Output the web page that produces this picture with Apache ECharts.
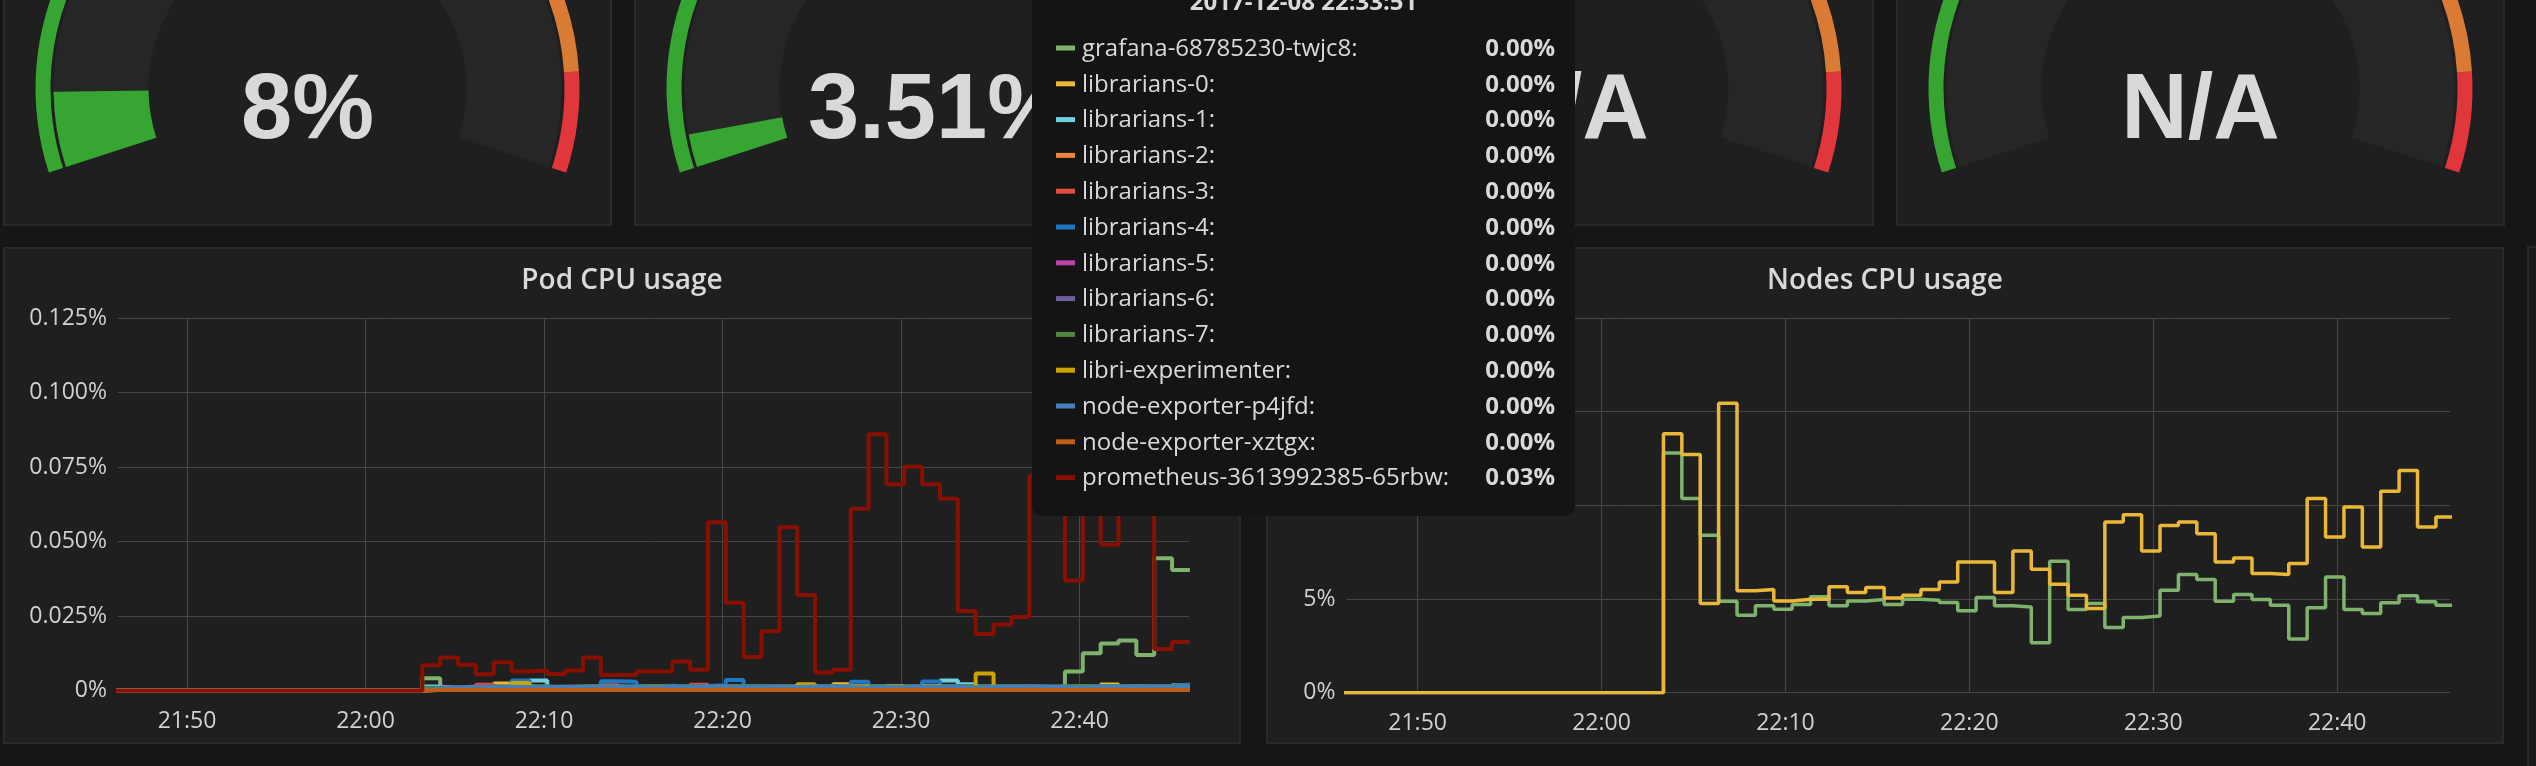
<!DOCTYPE html>
<html>
<head>
<meta charset="utf-8">
<script src="https://cdn.jsdelivr.net/npm/echarts@6/dist/echarts.min.js"></script>
<style>
html,body{margin:0;padding:0;background:#161616;}
#c{width:2536px;height:766px;}
</style>
</head>
<body>
<div id="c"></div>
<script>
// ---------------- DATA ----------------
// Gauges (singlestat)
const gaugeValues = [8, 3.51, null, null];
const gaugeMax = 100;
const gaugeThresholds = [80, 90];

// Pod CPU usage (%), one sample per minute, first sample 21:45:11
const podStart = [21, 45, 11];
const podNames = ['grafana-68785230-twjc8','librarians-0','librarians-1','librarians-2','librarians-3','librarians-4','librarians-5','librarians-6','librarians-7','libri-experimenter','node-exporter-p4jfd','node-exporter-xztgx','prometheus-3613992385-65rbw'];
const podColors = ['#7EB26D','#EAB839','#6ED0E0','#EF843C','#E24D42','#1F78C1','#BA43A9','#705DA0','#508642','#CCA300','#447EBC','#C15C17','#890F02'];

const podGrafana = [0,0,0,0,0,0,0,0,0,0,0,0,0,0,0,0,0,0,
  0.0042,0.0009,0.0008,0.0010,0.0009,0.0011,0.0008,0.0009,0.0010,0.0008,
  0.0009,0.0010,0.0009,0.0008,0.0010,0.0009,0.0011,0.0009,0.0008,0.0010,
  0.0009,0.0008,0.0010,0.0009,0.0011,0.0009,0.0008,0.0010,0.0009,0.0008,
  0.0010,0.0009,0.0008,0.0010,0.0009,0.0011,0.0064,0.0126,0.0158,0.0168,
  0.0120,0.0444,0.0405,0.0405];
const podLib0 = [0,0,0,0,0,0,0,0,0,0,0,0,0,0,0,0,0,0,
  0.0012,0.0010,0.0011,0.0008,0.0024,0.0012,0.0010,0.0009,0.0011,0.0013,
  0.0010,0.0009,0.0012,0.0011,0.0010,0.0012,0.0009,0.0011,0.0010,0.0012,
  0.0011,0.0009,0.0010,0.0022,0.0011,0.0010,0.0012,0.0009,0.0011,0.0010,
  0.0012,0.0011,0.0010,0.0009,0.0011,0.0012,0.0010,0.0011,0.0021,0.0012,
  0.0010,0.0011,0.0012,0.0012];
const podLib1 = [0,0,0,0,0,0,0,0,0,0,0,0,0,0,0,0,0,0,
  0.0014,0.0008,0.0006,0.0007,0.0009,0.0012,0.0034,0.0010,0.0008,0.0009,
  0.0015,0.0010,0.0009,0.0008,0.0012,0.0009,0.0010,0.0016,0.0009,0.0008,
  0.0010,0.0009,0.0010,0.0009,0.0011,0.0008,0.0010,0.0009,0.0012,0.0034,
  0.0022,0.0010,0.0009,0.0010,0.0008,0.0009,0.0010,0.0012,0.0009,0.0010,
  0.0011,0.0009,0.0018,0.0018];
const podLib2 = [0,0,0,0,0,0,0,0,0,0,0,0,0,0,0,0,0,0,
  0.0006,0.0007,0.0006,0.0005,0.0007,0.0006,0.0008,0.0006,0.0007,0.0006,
  0.0005,0.0007,0.0006,0.0008,0.0006,0.0005,0.0007,0.0014,0.0006,0.0007,
  0.0006,0.0005,0.0006,0.0007,0.0006,0.0008,0.0006,0.0007,0.0006,0.0014,
  0.0016,0.0007,0.0006,0.0005,0.0007,0.0006,0.0008,0.0006,0.0007,0.0006,
  0.0005,0.0007,0.0006,0.0006];
const podLib3 = [0,0,0,0,0,0,0,0,0,0,0,0,0,0,0,0,0,0,
  0.0009,0.0010,0.0012,0.0020,0.0010,0.0011,0.0009,0.0010,0.0012,0.0011,
  0.0018,0.0010,0.0009,0.0011,0.0010,0.0020,0.0009,0.0011,0.0010,0.0012,
  0.0009,0.0010,0.0011,0.0010,0.0012,0.0011,0.0010,0.0009,0.0011,0.0010,
  0.0012,0.0011,0.0010,0.0009,0.0011,0.0010,0.0012,0.0011,0.0010,0.0009,
  0.0011,0.0010,0.0012,0.0012];
const podLib4 = [0,0,0,0,0,0,0,0,0,0,0,0,0,0,0,0,0,0,
  0.0010,0.0011,0.0012,0.0010,0.0013,0.0034,0.0014,0.0012,0.0013,0.0016,
  0.0032,0.0030,0.0015,0.0017,0.0014,0.0016,0.0018,0.0036,0.0016,0.0015,
  0.0014,0.0016,0.0015,0.0014,0.0030,0.0016,0.0015,0.0014,0.0031,0.0016,
  0.0015,0.0014,0.0016,0.0015,0.0014,0.0013,0.0015,0.0016,0.0014,0.0015,
  0.0016,0.0017,0.0021,0.0021];
const podLib5 = [0,0,0,0,0,0,0,0,0,0,0,0,0,0,0,0,0,0,
  0.0004,0.0011,0.0014,0.0016,0.0010,0.0008,0.0007,0.0008,0.0009,0.0007,
  0.0008,0.0009,0.0007,0.0008,0.0009,0.0008,0.0007,0.0008,0.0009,0.0007,
  0.0008,0.0009,0.0007,0.0008,0.0009,0.0008,0.0007,0.0008,0.0009,0.0012,
  0.0008,0.0007,0.0009,0.0008,0.0007,0.0008,0.0009,0.0007,0.0008,0.0009,
  0.0008,0.0007,0.0008,0.0008];
const podLib6 = [0,0,0,0,0,0,0,0,0,0,0,0,0,0,0,0,0,0,
  0.0003,0.0005,0.0006,0.0007,0.0006,0.0005,0.0006,0.0007,0.0006,0.0005,
  0.0006,0.0007,0.0006,0.0005,0.0006,0.0007,0.0006,0.0005,0.0006,0.0007,
  0.0006,0.0005,0.0006,0.0007,0.0006,0.0005,0.0006,0.0007,0.0006,0.0005,
  0.0006,0.0007,0.0006,0.0005,0.0006,0.0007,0.0006,0.0005,0.0006,0.0007,
  0.0006,0.0005,0.0006,0.0006];
const podLib7 = [0,0,0,0,0,0,0,0,0,0,0,0,0,0,0,0,0,0,
  0.0008,0.0010,0.0012,0.0014,0.0015,0.0016,0.0014,0.0013,0.0015,0.0016,
  0.0014,0.0015,0.0016,0.0014,0.0015,0.0013,0.0015,0.0016,0.0014,0.0015,
  0.0016,0.0014,0.0015,0.0013,0.0015,0.0016,0.0014,0.0015,0.0016,0.0014,
  0.0015,0.0016,0.0014,0.0015,0.0013,0.0015,0.0016,0.0014,0.0015,0.0016,
  0.0014,0.0015,0.0016,0.0016];
const podLibriExp = [0,0,0,0,0,0,0,0,0,0,0,0,0,0,0,0,0,0,
  0.0003,0.0003,0.0004,0.0005,0.0006,0.0026,0.0005,0.0004,0.0010,0.0004,
  0.0013,0.0005,0.0011,0.0012,0.0012,0.0005,0.0004,0.0011,0.0004,0.0005,
  0.0004,0.0022,0.0004,0.0005,0.0015,0.0004,0.0015,0.0005,0.0016,0.0004,
  0.0005,0.0058,0.0004,0.0010,0.0004,0.0005,0.0004,0.0006,0.0005,0.0004,
  0.0005,0.0004,0.0006,0.0006];
const podNodeP = [0,0,0,0,0,0,0,0,0,0,0,0,0,0,0,0,0,0,
  0.0006,0.0010,0.0012,0.0011,0.0013,0.0012,0.0011,0.0013,0.0012,0.0014,
  0.0013,0.0012,0.0011,0.0013,0.0012,0.0014,0.0013,0.0012,0.0011,0.0013,
  0.0012,0.0014,0.0013,0.0012,0.0011,0.0013,0.0012,0.0014,0.0013,0.0012,
  0.0011,0.0013,0.0012,0.0014,0.0013,0.0012,0.0011,0.0013,0.0012,0.0014,
  0.0013,0.0012,0.0013,0.0013];
const podNodeX = [0,0,0,0,0,0,0,0,0,0,0,0,0,0,0,0,0,0,
  0.0002,0.0002,0.0003,0.0002,0.0002,0.0003,0.0002,0.0002,0.0002,0.0003,
  0.0002,0.0002,0.0003,0.0002,0.0002,0.0002,0.0003,0.0002,0.0002,0.0003,
  0.0002,0.0002,0.0002,0.0003,0.0002,0.0002,0.0003,0.0002,0.0002,0.0002,
  0.0003,0.0002,0.0002,0.0003,0.0002,0.0002,0.0002,0.0003,0.0002,0.0002,
  0.0003,0.0002,0.0002,0.0002];
const podPrometheus = [0,0,0,0,0,0,0,0,0,0,0,0,0,0,0,0,0,0,
  0.0085,0.0111,0.0087,0.0055,0.0095,0.0064,0.0068,0.0056,0.0068,0.0111,
  0.0053,0.0053,0.0064,0.0064,0.0098,0.0070,0.0565,0.0295,0.0113,0.0199,
  0.0548,0.0321,0.0061,0.0070,0.0610,0.0860,0.0692,0.0751,0.0692,0.0644,
  0.0267,0.0190,0.0222,0.0247,0.0720,0.0700,0.0370,0.0680,0.0490,0.0720,
  0.0660,0.0140,0.0163,0.0163];
const podValues = [podGrafana,podLib0,podLib1,podLib2,podLib3,podLib4,podLib5,podLib6,podLib7,podLibriExp,podNodeP,podNodeX,podPrometheus];

// Nodes CPU usage (%), one sample per minute, first sample 21:45:22
const nodesStart = [21, 45, 22];
const nodesColors = ['#7EB26D', '#EAB839'];
const nodesA = [0,0,0,0,0,0,0,0,0,0,0,0,0,0,0,0,0,0,
  12.79,10.36,8.40,4.88,4.14,4.64,4.46,4.71,5.12,4.64,
  4.90,4.97,4.71,4.99,4.94,4.81,4.37,5.08,4.64,4.58,
  2.66,7.02,4.44,4.76,3.48,4.01,4.10,5.47,6.31,6.04,
  4.88,5.24,4.97,4.67,2.86,4.53,6.18,4.44,4.23,4.80,
  5.17,4.85,4.67,4.67];
const nodesB = [0,0,0,0,0,0,0,0,0,0,0,0,0,0,0,0,0,0,
  13.82,12.72,4.76,15.45,5.44,5.51,4.90,4.99,4.99,5.65,
  5.35,5.61,5.06,5.20,5.51,5.91,6.98,6.98,5.35,7.57,
  6.59,5.79,5.20,4.49,9.11,9.50,7.57,8.93,9.11,8.49,
  6.98,7.19,6.36,6.31,6.89,10.36,8.31,9.91,7.78,10.75,
  11.86,8.85,9.38,9.38];
const nodesValues = [nodesA, nodesB];

// axes
const axisStart = [21, 46, 8];
const axisEnd = [22, 46, 8];
const podYMax = 0.125, podYStep = 0.025;
const nodesYMax = 20, nodesYStep = 5;

// tooltip (hover) time
const tooltipTime = [22, 33, 51];
const tooltipTitle = '2017-12-08 22:33:51';

// ---------------- BUILD ----------------
const T = (a) => new Date(2017, 11, 8, a[0], a[1], a[2]).getTime();
const MIN = 60000;
const pad = (n) => (n < 10 ? '0' : '') + n;
const timeFmt = (v) => { const d = new Date(v); return pad(d.getHours()) + ':' + pad(d.getMinutes()); };

function toSeriesData(startArr, vals) {
  const t0 = T(startArr);
  return vals.map((v, i) => [t0 + i * MIN, v]);
}

const chart = echarts.init(document.getElementById('c'), null, {renderer: 'canvas'});

const FONT = '"Open Sans", "DejaVu Sans", sans-serif';
const labelColor = '#d0d1d2';
const gridColor = '#464646';

// panels
const PBG = '#1f1f20', PBORDER = '#2a2a2b';
const graphics = [];
for (let i = 0; i < 4; i++) {
  graphics.push({type:'rect', z:-10, shape:{x:4 + 631*i, y:-20, width:607, height:245}, style:{fill:PBG, stroke:PBORDER, lineWidth:2}});
}
graphics.push({type:'rect', z:-10, shape:{x:4, y:248, width:1236, height:495}, style:{fill:PBG, stroke:PBORDER, lineWidth:2}});
graphics.push({type:'rect', z:-10, shape:{x:1267, y:248, width:1236, height:495}, style:{fill:PBG, stroke:PBORDER, lineWidth:2}});
graphics.push({type:'rect', z:-10, shape:{x:2528, y:247, width:60, height:600}, style:{fill:'#1a1a1b', stroke:PBORDER, lineWidth:2}});
// panel titles
graphics.push({type:'text', z:5, style:{text:'Pod CPU usage', x:622, y:281, fill:'#d8d9da', font:'600 28px ' + FONT, textAlign:'center', textVerticalAlign:'middle'}});
graphics.push({type:'text', z:5, style:{text:'Nodes CPU usage', x:1885, y:281, fill:'#d8d9da', font:'600 28px ' + FONT, textAlign:'center', textVerticalAlign:'middle'}});

// tooltip
const TT = {x:1032, right:1575, bottom:516};
graphics.push({type:'rect', z:100, shape:{x:TT.x, y:-20, width:TT.right - TT.x, height:TT.bottom + 20, r:[0,0,10,10]}, style:{fill:'#141414'}});
graphics.push({type:'text', z:101, style:{text:tooltipTitle, x:(TT.x + TT.right)/2, y:3, fill:'#d8d9da', font:'bold 24px ' + FONT, textAlign:'center', textVerticalAlign:'middle'}});
const podT0 = T(podStart);
const ttIdx = Math.floor((T(tooltipTime) - podT0) / MIN);
podNames.forEach((name, i) => {
  const y = 48 + 35.8 * i;
  graphics.push({type:'rect', z:101, shape:{x:1056, y:y - 2.5, width:19, height:5}, style:{fill:podColors[i]}});
  graphics.push({type:'text', z:101, style:{text:name + ':', x:1082, y:y + 1, fill:'#d8d9da', font:'24px ' + FONT, textAlign:'left', textVerticalAlign:'middle'}});
  graphics.push({type:'text', z:101, style:{text:podValues[i][ttIdx].toFixed(2) + '%', x:1555, y:y + 1, fill:'#d8d9da', font:'bold 24px ' + FONT, textAlign:'right', textVerticalAlign:'middle'}});
});

// gauges
const series = [];
const gGreen = '#37a532', gOrange = '#d97b35', gRed = '#e1373c';
gaugeValues.forEach((v, i) => {
  const cx = 4 + 631 * i + 303.5, cy = 88.5;
  const common = {type:'gauge', center:[cx, cy], startAngle:198, endAngle:-18, min:0, max:gaugeMax,
    splitLine:{show:false}, axisTick:{show:false}, axisLabel:{show:false}, pointer:{show:false},
    anchor:{show:false}, title:{show:false}, silent:true};
  series.push(Object.assign({}, common, {
    radius:272,
    axisLine:{lineStyle:{width:15, color:[[gaugeThresholds[0]/gaugeMax, gGreen],[gaugeThresholds[1]/gaugeMax, gOrange],[1, gRed]]}},
    detail:{show:false}, data:[{value:0}]
  }));
  series.push(Object.assign({}, common, {
    radius:254,
    axisLine:{lineStyle:{width:95, color:[[1, '#262627']]}},
    progress:{show: v != null, width:95, itemStyle:{color:gGreen}},
    detail:{show:true, offsetCenter:[0, 24], color:'#d8d9da', fontSize:92, fontWeight:'bold',
      fontFamily:'"Liberation Sans", Arial, sans-serif', formatter: () => (v == null ? 'N/A' : v + '%')},
    data:[{value: v == null ? 0 : v}]
  }));
});

// pod lines
podNames.forEach((name, i) => {
  series.push({type:'line', name:name, xAxisIndex:0, yAxisIndex:0, step:'end', showSymbol:false, symbol:'none',
    lineStyle:{width:4, color:podColors[i]}, itemStyle:{color:podColors[i]},
    data: toSeriesData(podStart, podValues[i])});
});
nodesValues.forEach((vals, i) => {
  series.push({type:'line', xAxisIndex:1, yAxisIndex:1, step:'end', showSymbol:false, symbol:'none',
    lineStyle:{width:3.5, color:nodesColors[i]}, itemStyle:{color:nodesColors[i]},
    data: toSeriesData(nodesStart, vals)});
});

const xAxisCommon = {type:'time', min:T(axisStart), max:T(axisEnd), minInterval:11*MIN, maxInterval:12*MIN,
  axisLine:{show:false}, axisTick:{show:false},
  axisLabel:{color:labelColor, fontSize:23, fontFamily:FONT, margin:19, formatter:timeFmt, showMinLabel:false, showMaxLabel:false},
  splitLine:{show:true, showMinLine:false, showMaxLine:false, lineStyle:{color:gridColor, width:1}}};
const yAxisCommon = {type:'value', min:0, axisLine:{show:false}, axisTick:{show:false},
  splitLine:{show:true, lineStyle:{color:gridColor, width:1}}};

chart.setOption({
  backgroundColor:'#161616',
  animation:false,
  grid:[
    {left:118, top:318, width:1071, height:372.7, containLabel:false},
    {left:1346.5, top:318, width:1103.5, height:374.7, containLabel:false}
  ],
  xAxis:[Object.assign({gridIndex:0}, xAxisCommon), Object.assign({gridIndex:1}, xAxisCommon)],
  yAxis:[
    Object.assign({gridIndex:0, max:podYMax, interval:podYStep,
      axisLabel:{color:labelColor, fontSize:23, fontFamily:FONT, margin:11, formatter:(v) => (v === 0 ? '0%' : v.toFixed(3) + '%')}}, yAxisCommon),
    Object.assign({gridIndex:1, max:nodesYMax, interval:nodesYStep,
      axisLabel:{color:labelColor, fontSize:23, fontFamily:FONT, margin:11, formatter:(v) => v + '%'}}, yAxisCommon)
  ],
  graphic:{elements:graphics},
  series:series
});
</script>
</body>
</html>
